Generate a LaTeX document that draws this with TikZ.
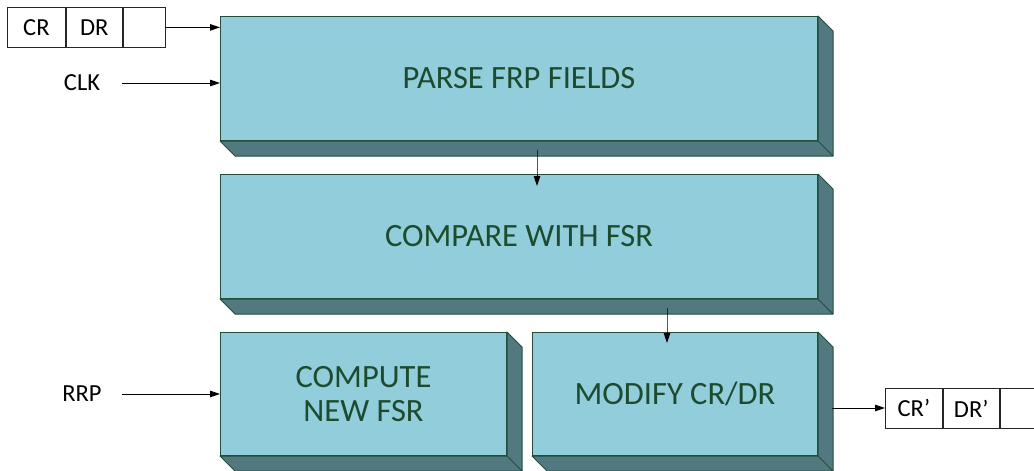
\documentclass[tikz,border=0pt]{standalone}
\usepackage{fontspec}
\setmainfont{Carlito}
\usetikzlibrary{calc,arrows.meta}

\definecolor{face}{HTML}{92CDDC}
\definecolor{sideface}{HTML}{52797F}
\definecolor{edge}{HTML}{244E3B}
\definecolor{boxtext}{HTML}{1D4B2E}

\tikzset{
  blk/.style={draw=edge, fill=face, line width=1pt, inner sep=0pt,
    text=boxtext, align=center, anchor=north west,
    font=\fontsize{32.5}{33.5}\selectfont},
  depth/.style={draw=edge, fill=sideface, line width=1pt, line join=round},
  cell/.style={draw=black!85, line width=0.8pt, inner sep=0pt, anchor=north west,
    minimum height=40pt, font=\fontsize{24.5}{26}\selectfont},
  lbl/.style={font=\fontsize{24.5}{26}\selectfont},
  flow/.style={draw=black, line width=0.9pt, -{Triangle[length=10pt,width=6.5pt]}},
}

% bottom and right faces of a raised block
\newcommand\slab[1]{%
  \draw[depth] (#1.south west) -- ++(15,15) -- ($(#1.south east)+(15,15)$)
    -- ($(#1.north east)+(15,15)$) -- (#1.north east) -- (#1.south east) -- cycle;
  \draw[edge, line width=1pt] (#1.south east) -- ++(15,15);
}

\begin{document}
\begin{tikzpicture}[x=1pt, y=-1pt]
  \useasboundingbox (0,0) rectangle (1034,471);

  % processing blocks
  \node[blk, minimum width=597pt, minimum height=124pt] (parse) at (220,16) {PARSE FRP FIELDS};
  \slab{parse}
  \node[blk, minimum width=597pt, minimum height=124pt] (cmp) at (220,174) {COMPARE WITH FSR};
  \slab{cmp}
  \node[blk, minimum width=286pt, minimum height=123pt] (comp) at (220,332) {COMPUTE\\NEW FSR};
  \slab{comp}
  \node[blk, minimum width=285pt, minimum height=123pt] (mod) at (532,332) {MODIFY CR/DR};
  \slab{mod}

  % input register
  \node[cell, minimum width=58pt] (cr) at (7,7) {CR};
  \node[cell, minimum width=56pt] (dr) at (cr.north east) {DR};
  \node[cell, minimum width=42pt] (e1) at (dr.north east) {};

  % output register
  \node[cell, minimum width=57pt] (cro) at (885,388) {CR’};
  \node[cell, minimum width=56pt] (dro) at (cro.north east) {DR’};
  \node[cell, minimum width=42pt] (e2) at (dro.north east) {};

  % side inputs
  \node[lbl] (clk) at (82,83) {CLK};
  \node[lbl] (rrp) at (82,394) {RRP};

  % connectors
  \draw[flow] (e1.east) -- (e1.east -| parse.west);
  \draw[flow] (122,83) coordinate (clkend) -- (clkend -| parse.west);
  \draw[flow] (122,394) coordinate (rrpend) -- (rrpend -| comp.west);
  \draw[flow] (537,150) coordinate (pdown) -- (pdown |- cmp.north) -- ++(0,12);
  \draw[flow] (667,308) coordinate (cdown) -- (cdown |- mod.north) -- ++(0,11);
  \draw[flow] (832,408) coordinate (mout) -- (mout -| cro.west);
\end{tikzpicture}
\end{document}
